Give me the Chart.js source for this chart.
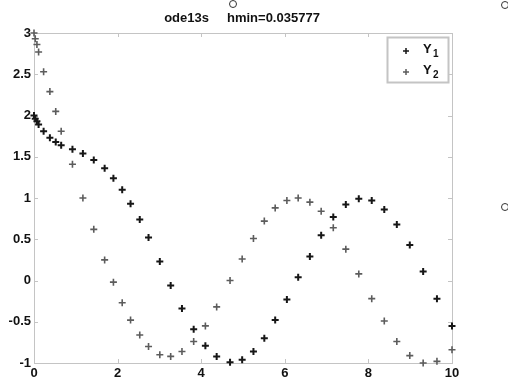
<!DOCTYPE html>
<html>
<head>
<meta charset="utf-8">
<script src="https://cdn.jsdelivr.net/npm/chart.js@4"></script>
<style>
  html, body { margin: 0; padding: 0; background: #fff; }
  #wrap { position: relative; width: 508px; height: 381px; }
  .ring { position: absolute; width: 6px; height: 6px; border: 1px solid #333; border-radius: 50%; }
</style>
</head>
<body>
<div id="wrap">
  <canvas id="chart" width="508" height="381"></canvas>
  <div class="ring" style="left:229px;top:0px"></div>
  <div class="ring" style="left:501px;top:1px"></div>
  <div class="ring" style="left:501px;top:203px"></div>
</div>
<script>
const titleText = 'ode13s     hmin=0.035777';
const seriesNames = ['Y1', 'Y2'];
const tValues = [0, 0.03, 0.07, 0.11, 0.23, 0.38, 0.52, 0.65, 0.92, 1.17, 1.43, 1.69, 1.90, 2.11,
  2.31, 2.53, 2.74, 3.01, 3.27, 3.54, 3.82, 4.10, 4.37, 4.69, 4.98, 5.25, 5.51, 5.77, 6.05, 6.32,
  6.60, 6.87, 7.16, 7.46, 7.77, 8.08, 8.38, 8.68, 8.99, 9.31, 9.64, 10.0];
const y1Values = [2.0, 1.96, 1.93, 1.89, 1.81, 1.73, 1.68, 1.64, 1.59, 1.54, 1.46, 1.36, 1.24, 1.10,
  0.93, 0.74, 0.52, 0.23, -0.06, -0.34, -0.59, -0.79, -0.92, -0.99, -0.96, -0.86, -0.70, -0.48, -0.23, 0.04,
  0.29, 0.55, 0.77, 0.92, 0.99, 0.97, 0.86, 0.68, 0.43, 0.11, -0.22, -0.55];
const y2Values = [3.0, 2.93, 2.86, 2.77, 2.53, 2.29, 2.05, 1.81, 1.41, 1.0, 0.62, 0.25, -0.02, -0.27,
  -0.48, -0.66, -0.80, -0.90, -0.92, -0.86, -0.74, -0.55, -0.32, 0.00, 0.26, 0.51, 0.72, 0.88, 0.97, 1.00,
  0.95, 0.84, 0.64, 0.38, 0.08, -0.22, -0.49, -0.74, -0.91, -1.00, -0.98, -0.84];
const xTicks = [0, 2, 4, 6, 8, 10];
const yTicks = [-1, -0.5, 0, 0.5, 1, 1.5, 2, 2.5, 3];

const axisColor = '#c4c4c4';
const colors = ['#161616', '#5c5c5c'];
const fontFamily = '"Liberation Sans", Arial, sans-serif';
const font = 'bold 13px ' + fontFamily;

// box, inward ticks, title and legend in MATLAB style
const matlabFrame = {
  id: 'matlabFrame',
  beforeDatasetsDraw(chart) {
    const { ctx, chartArea: a, scales } = chart;
    ctx.save();
    ctx.strokeStyle = axisColor;
    ctx.lineWidth = 1;
    ctx.strokeRect(a.left + 0.5, a.top + 0.5, a.right - a.left, a.bottom - a.top);
    ctx.beginPath();
    xTicks.forEach(v => {
      const x = Math.round(scales.x.getPixelForValue(v)) + 0.5;
      ctx.moveTo(x, a.bottom); ctx.lineTo(x, a.bottom - 4);
      ctx.moveTo(x, a.top); ctx.lineTo(x, a.top + 4);
    });
    yTicks.forEach(v => {
      const y = Math.round(scales.y.getPixelForValue(v)) + 0.5;
      ctx.moveTo(a.left, y); ctx.lineTo(a.left + 4, y);
      ctx.moveTo(a.right, y); ctx.lineTo(a.right - 4, y);
    });
    ctx.stroke();
    ctx.restore();
  },
  afterDraw(chart) {
    const { ctx, chartArea: a } = chart;
    ctx.save();
    ctx.fillStyle = '#111';
    ctx.font = font;
    ctx.textAlign = 'center';
    ctx.textBaseline = 'middle';
    ctx.fillText(titleText, (a.left + a.right) / 2 - 1, 18);

    // legend box
    const bx = a.right - 65, by = a.top + 4, bw = 61, bh = 45;
    ctx.fillStyle = '#fff';
    ctx.fillRect(bx, by, bw, bh);
    ctx.strokeStyle = axisColor;
    ctx.strokeRect(bx + 0.5, by + 0.5, bw, bh);
    seriesNames.forEach((name, i) => {
      const cy = by + 14 + i * 21;
      ctx.strokeStyle = colors[i];
      ctx.lineWidth = 1.5;
      ctx.beginPath();
      ctx.moveTo(bx + 16, cy); ctx.lineTo(bx + 22, cy);
      ctx.moveTo(bx + 19, cy - 3); ctx.lineTo(bx + 19, cy + 3);
      ctx.stroke();
      ctx.fillStyle = '#111';
      ctx.font = font;
      ctx.textAlign = 'left';
      ctx.textBaseline = 'alphabetic';
      ctx.fillText(name.charAt(0), bx + 36, cy + 2);
      ctx.font = 'bold 10px ' + fontFamily;
      ctx.fillText(name.slice(1), bx + 46, cy + 6);
    });
    ctx.restore();
  }
};

new Chart(document.getElementById('chart'), {
  type: 'scatter',
  data: {
    datasets: [y1Values, y2Values].map((vals, i) => ({
      label: seriesNames[i],
      data: tValues.map((t, j) => ({ x: t, y: vals[j] })),
      pointStyle: 'cross',
      pointRadius: 3.5,
      pointBorderWidth: i === 0 ? 2 : 1.6,
      borderColor: colors[i],
      backgroundColor: colors[i],
      clip: false
    }))
  },
  options: {
    responsive: false,
    animation: false,
    layout: { padding: { top: 33, right: 56, left: 0, bottom: 0 } },
    plugins: { legend: { display: false }, title: { display: false }, tooltip: { enabled: false } },
    scales: {
      x: {
        type: 'linear', min: 0, max: 10,
        afterBuildTicks: s => { s.ticks = xTicks.map(v => ({ value: v })); },
        afterFit: s => { s.height = 18; },
        grid: { display: false, drawTicks: false },
        border: { display: false },
        ticks: { color: '#111', padding: 3, maxRotation: 0, callback: v => String(v), font: { family: fontFamily, size: 13, weight: 'bold' } }
      },
      y: {
        type: 'linear', min: -1, max: 3,
        afterBuildTicks: s => { s.ticks = yTicks.map(v => ({ value: v })); },
        afterFit: s => { s.width = 34; },
        grid: { display: false, drawTicks: false },
        border: { display: false },
        ticks: { color: '#111', padding: 3, callback: v => String(v), font: { family: fontFamily, size: 13, weight: 'bold' } }
      }
    }
  },
  plugins: [matlabFrame]
});
</script>
</body>
</html>
